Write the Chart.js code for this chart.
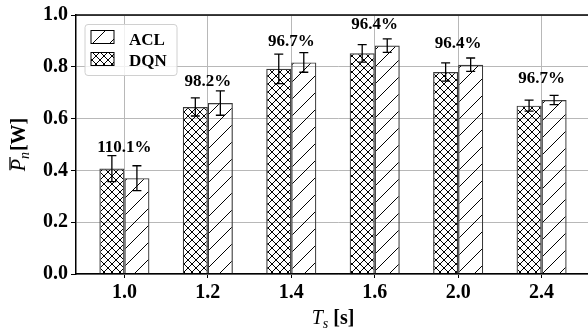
<!DOCTYPE html>
<html>
<head>
<meta charset="utf-8">
<script src="https://cdn.jsdelivr.net/npm/chart.js@4.4.1/dist/chart.umd.min.js"></script>
<style>
  html, body { margin: 0; padding: 0; background: #fff; overflow: hidden; width: 588px; height: 331px; }
  #wrap { width: 600px; height: 331px; position: relative; }
</style>
</head>
<body>
<div id="wrap"><canvas id="chartOne"></canvas></div>
<script>
// data
const categories = ["1.0", "1.2", "1.4", "1.6", "2.0", "2.4"];
const dqnValues = [0.407, 0.645, 0.792, 0.852, 0.780, 0.650];
const dqnErrors = [0.050, 0.035, 0.057, 0.034, 0.035, 0.021];
const aclValues = [0.370, 0.660, 0.817, 0.882, 0.808, 0.672];
const aclErrors = [0.048, 0.047, 0.038, 0.026, 0.026, 0.018];
const ratioLabels = ["110.1%", "98.2%", "96.7%", "96.4%", "96.4%", "96.7%"];
const yTicks = [0.0, 0.2, 0.4, 0.6, 0.8, 1.0];

const SERIF = '"Liberation Serif", "Times New Roman", serif';

function hatch(ctx, kind) {
    let s = kind === "x" ? 8 : 17;
    let c = document.createElement("canvas");
    c.width = s; c.height = s;
    let g = c.getContext("2d");
    g.strokeStyle = "#000";
    g.lineWidth = 1;
    g.beginPath();
    for (let k = -1; k <= 1; k++) {
        // "/" lines
        g.moveTo(k * s - 1, s + 1); g.lineTo(k * s + s + 1, -1);
        if (kind === "x") {
            // "\" lines
            g.moveTo(k * s - 1, -1); g.lineTo(k * s + s + 1, s + 1);
        }
    }
    g.stroke();
    return ctx.createPattern(c, "repeat");
}

const ctx = document.getElementById("chartOne").getContext("2d");
const dqnHatch = hatch(ctx, "x");
const aclHatch = hatch(ctx, "/");

// only grid lines / tick marks on the category positions
const onCat = (c, col) => (c.tick && Number.isInteger(c.tick.value) ? col : "rgba(0,0,0,0)");

const extras = {
    id: "extras",
    afterDatasetsDraw(chart) {
        const { ctx, scales: { x, y } } = chart;
        ctx.save();
        // error bars
        chart.data.datasets.forEach((ds, di) => {
            chart.getDatasetMeta(di).data.forEach((bar, i) => {
                let v = ds.data[i].y, e = ds.errors[i];
                let yt = y.getPixelForValue(v + e), yb = y.getPixelForValue(v - e);
                ctx.strokeStyle = "#000";
                ctx.lineWidth = 1.3;
                ctx.beginPath();
                ctx.moveTo(bar.x, yt); ctx.lineTo(bar.x, yb);
                ctx.moveTo(bar.x - 4.5, yt); ctx.lineTo(bar.x + 4.5, yt);
                ctx.moveTo(bar.x - 4.5, yb); ctx.lineTo(bar.x + 4.5, yb);
                ctx.stroke();
            });
        });
        // ratio labels above each group
        ctx.font = "bold 17px " + SERIF;
        ctx.fillStyle = "#000";
        ctx.textAlign = "center";
        ctx.textBaseline = "alphabetic";
        ratioLabels.forEach((t, i) => {
            let top = Math.max(dqnValues[i], aclValues[i]) + 0.065;
            ctx.fillText(t, x.getPixelForValue(i), y.getPixelForValue(top));
        });
        ctx.restore();
    },
    afterDraw(chart) {
        const { ctx, chartArea: a, scales: { x } } = chart;
        ctx.save();
        // top spine
        ctx.strokeStyle = "#000";
        ctx.lineWidth = 1.5;
        ctx.beginPath();
        ctx.moveTo(a.left, a.top); ctx.lineTo(a.right, a.top);
        ctx.stroke();

        // legend
        let lx = a.left + 9, ly = a.top + 9.5;
        ctx.beginPath();
        ctx.roundRect(lx, ly, 92, 51, 3);
        ctx.fillStyle = "rgba(255,255,255,0.8)";
        ctx.fill();
        ctx.strokeStyle = "#d0d0d0";
        ctx.lineWidth = 1;
        ctx.stroke();
        let entries = [["ACL", aclHatch, 6, 20], ["DQN", dqnHatch, 28, 41.7]];
        ctx.font = "bold 17px " + SERIF;
        ctx.textAlign = "left";
        ctx.textBaseline = "alphabetic";
        entries.forEach(([label, pat, hy, ty]) => {
            ctx.fillStyle = pat;
            ctx.fillRect(lx + 6, ly + hy, 23, 13);
            ctx.strokeStyle = "#000";
            ctx.lineWidth = 1;
            ctx.strokeRect(lx + 6, ly + hy, 23, 13);
            ctx.fillStyle = "#000";
            ctx.fillText(label, lx + 44, ly + ty);
        });

        // x axis title: T_s [s]
        let fI = "italic 20px " + SERIF, fSub = "italic 14px " + SERIF, fB = "bold 20px " + SERIF;
        ctx.font = fI; let wT = ctx.measureText("T").width;
        ctx.font = fSub; let ws = ctx.measureText("s").width;
        ctx.font = fB; let wb = ctx.measureText(" [s]").width;
        let cx = x.getPixelForValue(2.5) - (wT + ws + wb) / 2;
        let by = 324;
        ctx.font = fI; ctx.fillText("T", cx, by); cx += wT;
        ctx.font = fSub; ctx.fillText("s", cx, by + 4); cx += ws;
        ctx.font = fB; ctx.fillText(" [s]", cx, by);

        // y axis title: P̄_n [W]
        ctx.translate(25, (a.top + a.bottom) / 2);
        ctx.rotate(-Math.PI / 2);
        ctx.font = fI; let wP = ctx.measureText("P").width;
        ctx.font = fSub; let wn = ctx.measureText("n").width;
        ctx.font = fB; let wW = ctx.measureText("[W]").width;
        let px = -(wP + wn + 1 + wW) / 2;
        ctx.font = fI; ctx.fillText("P", px, 0);
        ctx.lineWidth = 1.3;
        ctx.beginPath();
        ctx.moveTo(px + 1, -15); ctx.lineTo(px + wP + 2, -15);
        ctx.stroke();
        px += wP;
        ctx.font = fSub; ctx.fillText("n", px, 4); px += wn + 1;
        ctx.font = fB; ctx.fillText("[W]", px, 0);
        ctx.restore();
    }
};

function BuildChart() {
    return new Chart(ctx, {
        type: "bar",
        data: {
            datasets: [{
                label: "DQN",
                data: dqnValues.map((v, i) => ({ x: i, y: v })),
                errors: dqnErrors,
                backgroundColor: dqnHatch,
                borderColor: "#3a3a3a",
                borderWidth: 1.2,
                categoryPercentage: 0.6,
                barPercentage: 1.0
            }, {
                label: "ACL",
                data: aclValues.map((v, i) => ({ x: i, y: v })),
                errors: aclErrors,
                backgroundColor: aclHatch,
                borderColor: "#3a3a3a",
                borderWidth: 1.2,
                categoryPercentage: 0.6,
                barPercentage: 1.0
            }]
        },
        options: {
            responsive: true,
            maintainAspectRatio: false,
            animation: false,
            layout: { padding: { top: 15, right: 0, bottom: 0, left: 0 } },
            plugins: { legend: { display: false }, tooltip: { enabled: false } },
            scales: {
                x: {
                    type: "linear",
                    min: -0.58,
                    max: 5.70,
                    offset: false,
                    afterBuildTicks: s => { s.ticks = categories.map((c, i) => ({ value: i })); },
                    afterFit: s => { s.height = 57; },
                    ticks: {
                        callback: v => categories[v],
                        color: "#000",
                        font: { family: SERIF, size: 20, weight: "bold" },
                        padding: 3,
                        maxRotation: 0,
                        autoSkip: false
                    },
                    grid: {
                        offset: false,
                        color: c => onCat(c, "#b8b8b8"),
                        tickColor: c => onCat(c, "#000"),
                        lineWidth: 1,
                        tickLength: 4
                    },
                    border: { color: "#000", width: 1.5 }
                },
                y: {
                    min: 0,
                    max: 1,
                    afterBuildTicks: s => { s.ticks = yTicks.map(v => ({ value: v })); },
                    afterFit: s => { s.width = 76; },
                    ticks: {
                        callback: v => v.toFixed(1),
                        color: "#000",
                        font: { family: SERIF, size: 20, weight: "bold" },
                        padding: 3
                    },
                    grid: { color: "#b8b8b8", lineWidth: 1, tickLength: 5, tickColor: "#000" },
                    border: { color: "#000", width: 1.5 }
                }
            }
        },
        plugins: [extras]
    });
}

BuildChart();
</script>
</body>
</html>
